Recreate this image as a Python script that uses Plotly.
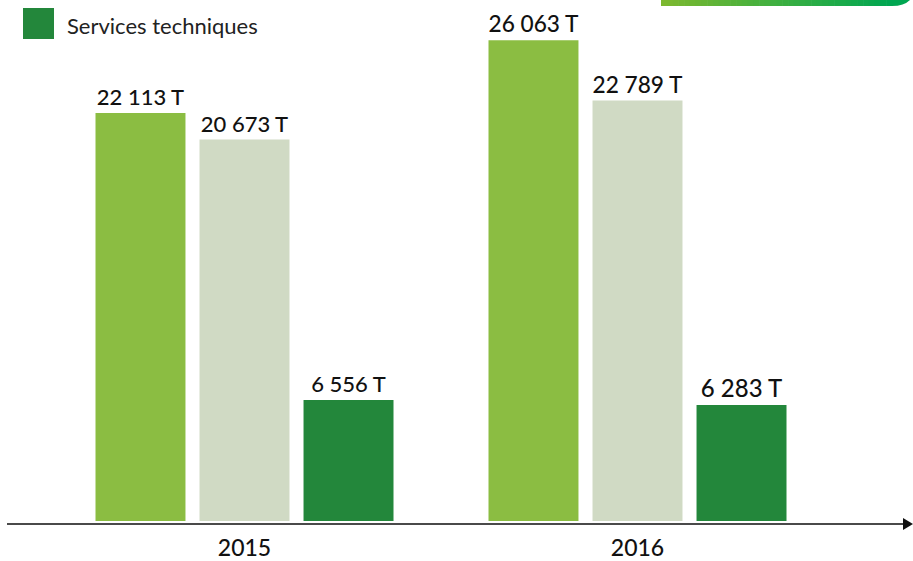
import plotly.graph_objects as go

# Tonnages par année et par type de collecte
years = ["2015", "2016"]
serie_1 = [22113, 26063]
serie_2 = [20673, 22789]
services_techniques = [6556, 6283]

series_names = ["Série 1", "Série 2", "Services techniques"]
series_colors = ["#8bbd42", "#d0dac4", "#23873b"]
label_sizes = [22, 24]

W, H = 913, 561
MB = 40
PLOT_H = H - MB


def fmt(v):
    return f"{v:,}".replace(",", " ") + " T"


fig = go.Figure()
for name, vals, col in zip(series_names, [serie_1, serie_2, services_techniques], series_colors):
    fig.add_trace(go.Bar(
        x=years, y=vals, name=name,
        marker=dict(color=col, line=dict(width=0)),
        text=[fmt(v) for v in vals],
        textposition="outside",
        textfont=dict(family="Lato", size=label_sizes, color="#111111", weight=500),
        cliponaxis=False,
        showlegend=False,
    ))

shapes = []

# horizontal axis with arrow head
ax_y = -3 / PLOT_H
shapes.append(dict(type="line", xref="paper", yref="paper",
                   x0=7 / W, x1=905 / W, y0=ax_y, y1=ax_y,
                   line=dict(color="#4a4a4a", width=2)))
shapes.append(dict(type="path", xref="paper", yref="paper",
                   path=f"M {903/W},{ax_y + 6/PLOT_H} L {913/W},{ax_y} L {903/W},{ax_y - 6/PLOT_H} Z",
                   fillcolor="#111111", line=dict(width=0)))

# legend swatch
shapes.append(dict(type="rect", xref="paper", yref="paper",
                   x0=23 / W, x1=54 / W, y0=1 - 39 / PLOT_H, y1=1 - 8 / PLOT_H,
                   fillcolor=series_colors[2], line=dict(width=0)))

# decorative gradient band at the top right
def lerp(c1, c2, t):
    a = [int(c1[i:i + 2], 16) for i in (1, 3, 5)]
    b = [int(c2[i:i + 2], 16) for i in (1, 3, 5)]
    return "#" + "".join(f"{round(a[k] + (b[k] - a[k]) * t):02x}" for k in range(3))

band_x0, band_x1, band_h = 661, 892, 6
n = 40
for i in range(n):
    xa = band_x0 + (band_x1 - band_x0) * i / n
    xb = band_x0 + (band_x1 - band_x0) * (i + 1) / n + 0.6
    shapes.append(dict(type="rect", xref="paper", yref="paper",
                       x0=xa / W, x1=xb / W, y0=1 - band_h / PLOT_H, y1=1 + 2 / PLOT_H,
                       fillcolor=lerp("#7cb82f", "#00a651", i / (n - 1)), line=dict(width=0)))
shapes.append(dict(type="path", xref="paper", yref="paper",
                   path=(f"M {892/W},{1 + 2/PLOT_H} L {910/W},{1 + 2/PLOT_H} L {910/W},{1} "
                         f"Q {904/W},{1 - band_h/PLOT_H} {892/W},{1 - band_h/PLOT_H} Z"),
                   fillcolor="#00a651", line=dict(width=0)))

annotations = [dict(xref="paper", yref="paper", x=65 / W, y=1 - 25 / PLOT_H,
                    text="Services techniques", showarrow=False,
                    xanchor="left", yanchor="middle",
                    font=dict(family="Lato", size=22, color="#222222"))]

spacing = 393.0
c0 = 244.5
fig.update_layout(
    width=W, height=H,
    margin=dict(l=0, r=0, t=0, b=MB, pad=0),
    paper_bgcolor="white", plot_bgcolor="white",
    barmode="group", bargap=0.206, bargroupgap=0.135,
    xaxis=dict(type="category", range=[-c0 / spacing, (W - c0) / spacing],
               showgrid=False, zeroline=False, showline=False, ticks="",
               tickfont=dict(family="Lato", size=23, color="#111111", weight=500),
               ticklabelstandoff=11, fixedrange=True),
    yaxis=dict(range=[0, PLOT_H / 0.01845], visible=False, fixedrange=True),
    shapes=shapes,
    annotations=annotations,
    showlegend=False,
)

fig.write_html("out.html")
